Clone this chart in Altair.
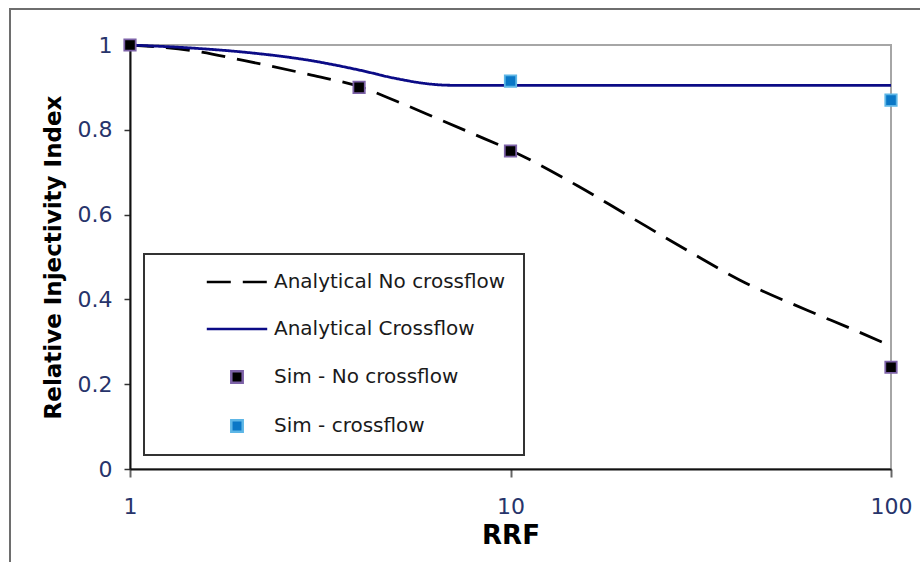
import altair as alt
import pandas as pd

# Analytical curves: relative injectivity index vs residual resistance factor
rrf_no_cf = [1, 1.5, 2, 3, 4, 5, 6, 8, 10, 15, 20, 30, 40, 60, 80, 100]
analytical_no_cf = [1.0, 0.985, 0.963, 0.929, 0.902, 0.868, 0.838, 0.790, 0.752,
                    0.668, 0.602, 0.509, 0.446, 0.375, 0.328, 0.290]

rrf_cf = [1, 1.5, 2, 3, 4, 5, 6, 6.5, 7, 10, 20, 50, 100]
analytical_cf = [1.0, 0.992, 0.983, 0.963, 0.941, 0.921, 0.909, 0.906, 0.905,
                 0.905, 0.905, 0.905, 0.905]

# Simulation results
sim_rrf_no_cf = [1, 4, 10, 100]
sim_no_cf = [1.0, 0.90, 0.75, 0.24]
sim_rrf_cf = [10, 100]
sim_cf = [0.915, 0.87]

series_names = ["Analytical No crossflow", "Analytical Crossflow",
                "Sim - No crossflow", "Sim - crossflow"]

curves = pd.concat([
    pd.DataFrame({"rrf": rrf_no_cf, "value": analytical_no_cf, "series": series_names[0]}),
    pd.DataFrame({"rrf": rrf_cf, "value": analytical_cf, "series": series_names[1]}),
])
sims = pd.concat([
    pd.DataFrame({"rrf": sim_rrf_no_cf, "value": sim_no_cf, "series": series_names[2]}),
    pd.DataFrame({"rrf": sim_rrf_cf, "value": sim_cf, "series": series_names[3]}),
])

FONT = "DejaVu Sans"
MARKER_SIZE = 130
# horizontal line symbol for the curve entries of the legend
LINE_SYMBOL = "M-5.3,0H5.3"

legend = alt.Legend(
    title=None, orient="none", legendX=14, legendY=209,
    padding=18, symbolOffset=65, labelOffset=27, rowPadding=27,
    labelFont=FONT, labelFontSize=20, labelColor="#1a1a1a", labelLimit=400,
    strokeColor="#333333", fillColor="white",
    symbolStrokeWidth=2.5, symbolSize=MARKER_SIZE,
)

stroke_scale = alt.Scale(domain=series_names,
                         range=["#000000", "#0b0b86", "#7d62a8", "#5db6e6"])
fill_scale = alt.Scale(domain=series_names,
                       range=["transparent", "transparent", "#000000", "#0a77c6"])
shape_scale = alt.Scale(domain=series_names,
                        range=[LINE_SYMBOL, LINE_SYMBOL, "square", "square"])
dash_scale = alt.Scale(domain=series_names,
                       range=[[24, 12], [1, 0], [1, 0], [1, 0]])

x_enc = alt.X(
    "rrf:Q",
    scale=alt.Scale(type="log", domain=[1, 100]),
    axis=alt.Axis(
        values=[1, 10, 100], format="~g", grid=False, labelFlush=False,
        domainColor="#111111", domainWidth=2,
        tickColor="#666666", tickSize=8, tickWidth=2,
        labelFont=FONT, labelFontSize=22, labelColor="#27346b", labelPadding=19,
        title="RRF", titleFont=FONT, titleFontWeight="bold", titleFontSize=26,
        titleColor="#000000", titlePadding=5,
    ),
)
y_enc = alt.Y(
    "value:Q",
    scale=alt.Scale(domain=[0, 1]),
    axis=alt.Axis(
        values=[0, 0.2, 0.4, 0.6, 0.8, 1], format="~g", grid=False,
        domainColor="#111111", domainWidth=2,
        tickColor="#333333", tickSize=6, tickWidth=1.5,
        labelFont=FONT, labelFontSize=22, labelColor="#27346b", labelPadding=12,
        title="Relative Injectivity Index", titleFont=FONT, titleFontWeight="bold",
        titleFontSize=23, titleColor="#000000", titlePadding=12,
    ),
)

lines = alt.Chart(curves).mark_line(strokeWidth=2.8, interpolate="monotone").encode(
    x=x_enc,
    y=y_enc,
    stroke=alt.Stroke("series:N", scale=stroke_scale, legend=legend),
    strokeDash=alt.StrokeDash("series:N", scale=dash_scale, legend=legend),
)

points = alt.Chart(sims).mark_point(
    filled=True, opacity=1, strokeWidth=1.8, size=MARKER_SIZE
).encode(
    x=x_enc,
    y=y_enc,
    fill=alt.Fill("series:N", scale=fill_scale, legend=legend),
    stroke=alt.Stroke("series:N", scale=stroke_scale, legend=legend),
    shape=alt.Shape("series:N", scale=shape_scale, legend=legend),
)

# Outer frame around the whole figure
frame = alt.Chart(pd.DataFrame({"k": [0]})).mark_rect(
    fill="transparent", stroke="#6e6e6e", strokeWidth=2
).encode(
    x=alt.value(-120), x2=alt.value(900), y=alt.value(-36), y2=alt.value(600)
)

chart = alt.layer(frame, lines, points).properties(
    width=761, height=424,
    autosize=alt.AutoSizeParams(type="none"),
    padding={"left": 130, "top": 45, "right": 29, "bottom": 93},
    background="white",
).configure_view(
    stroke="#a6a6a6", strokeWidth=2
).configure_legend(strokeWidth=2)

chart.save("out.html", embed_options={"renderer": "svg", "actions": False})
